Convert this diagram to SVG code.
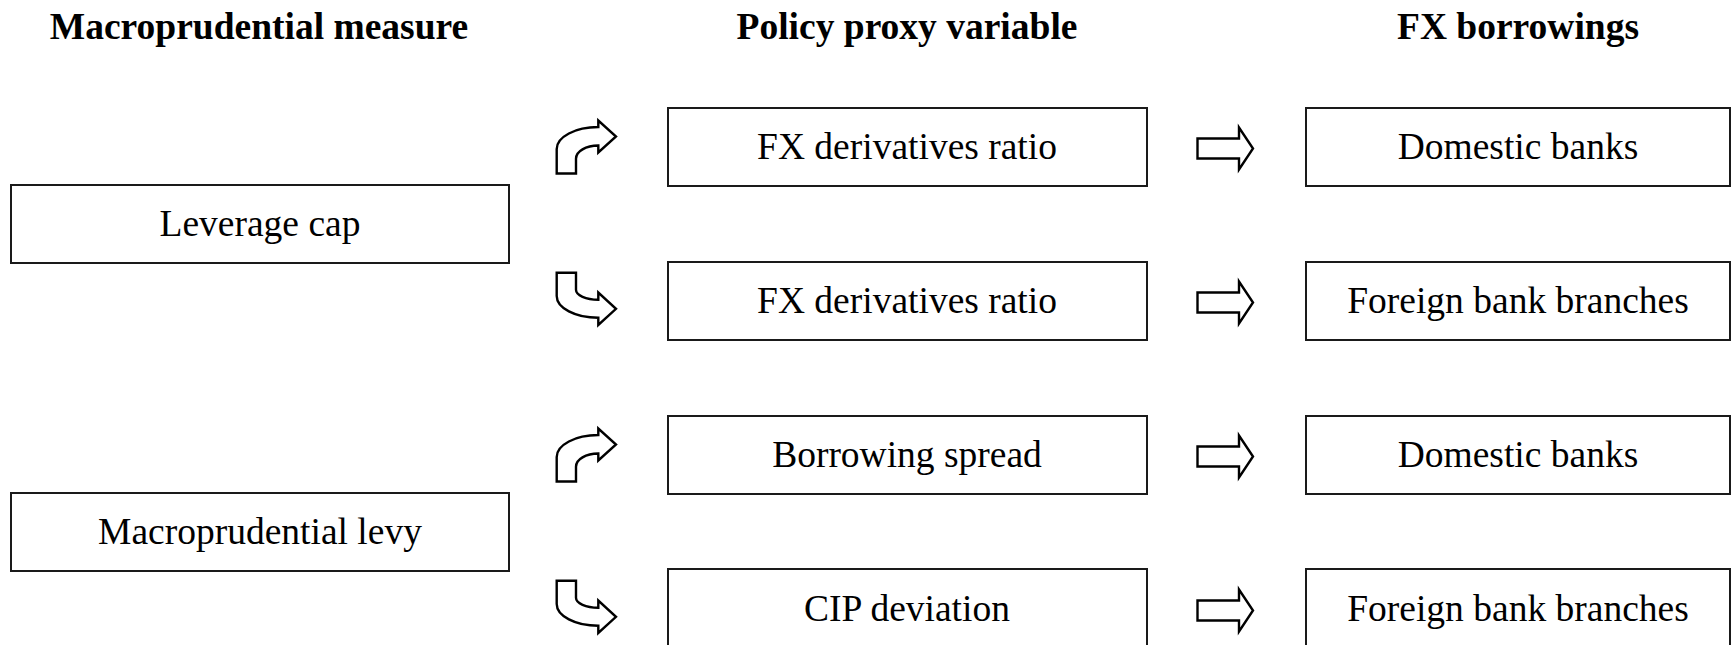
<svg xmlns="http://www.w3.org/2000/svg" width="1733" height="645" viewBox="0 0 1733 645">
  <style>
    .box { fill: #ffffff; stroke: #1a1a1a; stroke-width: 2; }
    .lbl { font-family: "Liberation Serif", "Times New Roman", serif; font-size: 37.5px; fill: #000; text-anchor: middle; }
    .hdr { font-family: "Liberation Serif", "Times New Roman", serif; font-size: 37.5px; font-weight: bold; fill: #000; text-anchor: middle; }
    .arw { fill: #ffffff; stroke: #000; stroke-width: 2.4; stroke-linejoin: miter; }
  </style>
  <defs>
    <!-- bent arrow turning up and right; origin = row centre -->
    <path id="bendUp" d="M556.7,26.5 V2 A41.6,22 0 0 1 598.3,-20 V-26.5 L616,-10.5 L598.3,5.5 V-1.5 A22.3,13.2 0 0 0 576,11.7 V26.5 Z"/>
    <!-- bent arrow turning down and right; origin = row centre -->
    <path id="bendDown" d="M556.7,-28.3 V-5 A41.6,21.8 0 0 0 598.3,16.8 V24 L616,7.8 L598.3,-8.5 V-1.2 A22.3,10 0 0 1 576,-11.2 V-28.3 Z"/>
    <!-- block arrow pointing right; origin = row centre -->
    <path id="blockRight" d="M1197.5,-8.5 H1239 V-19.5 L1253,1.5 L1239,22.5 V11.5 H1197.5 Z"/>
  </defs>

  <!-- column headings -->
  <g id="headings">
    <text class="hdr" x="259" y="39">Macroprudential measure</text>
    <text class="hdr" x="907" y="39">Policy proxy variable</text>
    <text class="hdr" x="1518" y="39">FX borrowings</text>
  </g>

  <!-- measures -->
  <g id="leverage-cap">
    <rect class="box" x="11" y="185" width="498" height="78"/>
    <text class="lbl" x="260" y="236">Leverage cap</text>
  </g>
  <g id="macroprudential-levy">
    <rect class="box" x="11" y="493" width="498" height="78"/>
    <text class="lbl" x="260" y="544">Macroprudential levy</text>
  </g>

  <!-- proxy variables -->
  <g id="proxy-1">
    <rect class="box" x="668" y="108" width="479" height="78"/>
    <text class="lbl" x="907" y="159">FX derivatives ratio</text>
  </g>
  <g id="proxy-2">
    <rect class="box" x="668" y="262" width="479" height="78"/>
    <text class="lbl" x="907" y="313">FX derivatives ratio</text>
  </g>
  <g id="proxy-3">
    <rect class="box" x="668" y="416" width="479" height="78"/>
    <text class="lbl" x="907" y="467">Borrowing spread</text>
  </g>
  <g id="proxy-4">
    <rect class="box" x="668" y="569" width="479" height="90"/>
    <text class="lbl" x="907" y="621">CIP deviation</text>
  </g>

  <!-- borrower groups -->
  <g id="borrower-1">
    <rect class="box" x="1306" y="108" width="424" height="78"/>
    <text class="lbl" x="1518" y="159">Domestic banks</text>
  </g>
  <g id="borrower-2">
    <rect class="box" x="1306" y="262" width="424" height="78"/>
    <text class="lbl" x="1518" y="313">Foreign bank branches</text>
  </g>
  <g id="borrower-3">
    <rect class="box" x="1306" y="416" width="424" height="78"/>
    <text class="lbl" x="1518" y="467">Domestic banks</text>
  </g>
  <g id="borrower-4">
    <rect class="box" x="1306" y="569" width="424" height="90"/>
    <text class="lbl" x="1518" y="621">Foreign bank branches</text>
  </g>

  <!-- connectors -->
  <g id="connectors">
    <use href="#bendUp" class="arw" transform="translate(0,147)"/>
    <use href="#bendDown" class="arw" transform="translate(0,301)"/>
    <use href="#bendUp" class="arw" transform="translate(0,455)"/>
    <use href="#bendDown" class="arw" transform="translate(0,609)"/>
    <use href="#blockRight" class="arw" transform="translate(0,147)"/>
    <use href="#blockRight" class="arw" transform="translate(0,301)"/>
    <use href="#blockRight" class="arw" transform="translate(0,455)"/>
    <use href="#blockRight" class="arw" transform="translate(0,609)"/>
  </g>
</svg>
